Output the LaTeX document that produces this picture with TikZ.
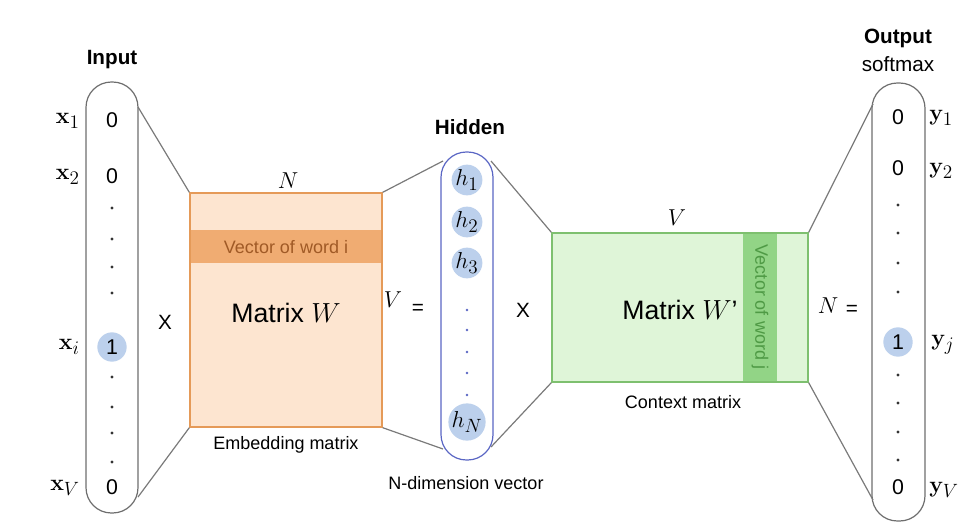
\documentclass[tikz,border=0pt]{standalone}
\usepackage[no-math]{fontspec}
\setmainfont{Liberation Sans}
\definecolor{pillgray}{HTML}{6E6E6E}
\definecolor{conngray}{HTML}{7A7A7A}
\definecolor{hlblue}{HTML}{BCD0EC}
\definecolor{hidblue}{HTML}{5A66C4}
\definecolor{orfill}{HTML}{FDE5D0}
\definecolor{ordraw}{HTML}{E59A58}
\definecolor{orband}{HTML}{F0AC72}
\definecolor{ortext}{HTML}{A05A26}
\definecolor{grfill}{HTML}{DFF5D8}
\definecolor{grdraw}{HTML}{7EC06F}
\definecolor{grband}{HTML}{92D486}
\definecolor{grtext}{HTML}{4F9A45}
\begin{document}
\begin{tikzpicture}[x=0.75pt,y=-0.75pt,
  pill/.style={draw=pillgray, line width=0.9pt, rounded corners=19pt, fill=white},
  hpill/.style={draw=hidblue, line width=0.9pt, rounded corners=19pt, fill=white},
  conn/.style={draw=conngray, line width=0.9pt},
  val/.style={font=\fontsize{16}{18}\selectfont, inner sep=0pt},
  lab/.style={font=\fontsize{19}{22}\selectfont, inner sep=0pt},
  dotn/.style={circle, fill=black!80, inner sep=0pt, minimum size=2.4pt},
  hdot/.style={circle, fill=hidblue, inner sep=0pt, minimum size=2.2pt},
  hl/.style={circle, fill=hlblue, minimum size=22pt, inner sep=0pt},
  hv/.style={hl, font=\fontsize{19}{22}\selectfont},
  ttl/.style={font=\fontsize{15.5}{18}\selectfont\bfseries, inner sep=0pt},
  small/.style={font=\fontsize{13.5}{16}\selectfont, inner sep=0pt},
  big/.style={font=\fontsize{20}{24}\selectfont, inner sep=0pt},
  op/.style={font=\fontsize{15.5}{18}\selectfont, inner sep=0pt}]
\useasboundingbox (0,0) rectangle (977,528);

% ---------- input pill ----------
\draw[pill] (86,82) rectangle (138,513);
\coordinate (inTop) at (138,107);
\coordinate (inBot) at (138,497);
\node[ttl] (inlab) at (112,60) {Input};
\node[val] (i1) at (112,120) {0};
\node[val] (i2) at (112,176) {0};
\foreach \y [count=\k] in {208,239,267,293} \node[dotn] (ida\k) at (112,\y) {};
\node[hl] (icirc) at (112,347) {};
\node[val] (ii) at (112,347) {1};
\foreach \y [count=\k] in {377,407,433,462} \node[dotn] (idb\k) at (112,\y) {};
\node[val] (iV) at (112,487) {0};
\node[lab, anchor=east] (x1) at (80,121) {$\mathbf{x}_1$};
\node[lab, anchor=east] (x2) at (80,177) {$\mathbf{x}_2$};
\node[lab, anchor=east] (xi) at (80,347) {$\mathbf{x}_i$};
\node[lab, anchor=east] (xV) at (80,488) {$\mathbf{x}_V$};
\node[op] (times1) at (165,322) {X};

% ---------- embedding matrix ----------
\node[draw=ordraw, fill=orfill, line width=1pt, minimum width=144pt, minimum height=175.5pt, inner sep=0pt] (W) at (286,310) {};
\fill[orband] (190.7,230) rectangle (381.3,263);
\node[small, text=ortext] (vwi) at (286,247) {Vector of word i};
\node[big] (Wlab) at (286,313) {Matrix $W$};
\node[lab] (Nlab) at (288,181) {$N$};
\node[small] (emb) at (286,445) {Embedding matrix};
\node[lab] (Vlab) at (393,300) {$V$};
\node[op] (eq1) at (418,309) {=};

\draw[conn] (inTop) -- (W.north west);
\draw[conn] (inBot) -- (W.south west);

% ---------- hidden pill ----------
\draw[hpill] (441,152) rectangle (493,460);
\coordinate (hTL) at (443,161);
\coordinate (hBL) at (443,449);
\coordinate (hTR) at (491,161);
\coordinate (hBR) at (491,447);
\node[ttl] (hidlab) at (470,127) {Hidden};
\node[hv] (h1) at (467,180) {$h_1$};
\node[hv] (h2) at (467,222) {$h_2$};
\node[hv] (h3) at (467,263) {$h_3$};
\foreach \y [count=\k] in {310,330,352,373,395} \node[hdot] (hd\k) at (467,\y) {};
\node[hv] (hN) at (467,422) {$h_N$};
\node[small] (ndim) at (466,483) {N-dimension vector};
\node[op] (times2) at (523,310) {X};

\draw[conn] (W.north east) -- (hTL);
\draw[conn] (W.south east) -- (hBL);

% ---------- context matrix ----------
\node[draw=grdraw, fill=grfill, line width=1pt, minimum width=192pt, minimum height=111.75pt, inner sep=0pt] (Wp) at (680,307.5) {};
\fill[grband] (743,233.7) rectangle (777,381.3);
\node[small, text=grtext, rotate=-90] (vwj) at (760,307) {Vector of word j};
\node[big] (Wplab) at (680,310) {Matrix $W$'};
\node[lab] (Vtop) at (677,218) {$V$};
\node[small] (ctx) at (683,402) {Context matrix};
\node[lab] (Nlab2) at (828,306) {$N$};
\node[op] (eq2) at (852,310) {=};

\draw[conn] (hTR) -- (Wp.north west);
\draw[conn] (hBR) -- (Wp.south west);

% ---------- output pill ----------
\draw[pill] (872,83) rectangle (925,521);
\coordinate (oTop) at (873,104);
\coordinate (oBot) at (873,500);
\node[ttl] (outlab) at (898,38) {Output};
\node[op] (soft) at (898,64) {softmax};
\node[val] (o1) at (898,117) {0};
\node[val] (o2) at (898,168) {0};
\foreach \y [count=\k] in {205,233,263,292} \node[dotn] (oda\k) at (898,\y) {};
\node[hl] (ocirc) at (898,342) {};
\node[val] (oj) at (898,342) {1};
\foreach \y [count=\k] in {375,403,432,460} \node[dotn] (odb\k) at (898,\y) {};
\node[val] (oV) at (898,487) {0};
\node[lab, anchor=west] (y1) at (929,118) {$\mathbf{y}_1$};
\node[lab, anchor=west] (y2) at (929,171) {$\mathbf{y}_2$};
\node[lab, anchor=west] (yj) at (931,345) {$\mathbf{y}_j$};
\node[lab, anchor=west] (yV) at (929,490) {$\mathbf{y}_V$};

\draw[conn] (Wp.north east) -- (oTop);
\draw[conn] (Wp.south east) -- (oBot);
\end{tikzpicture}
\end{document}
